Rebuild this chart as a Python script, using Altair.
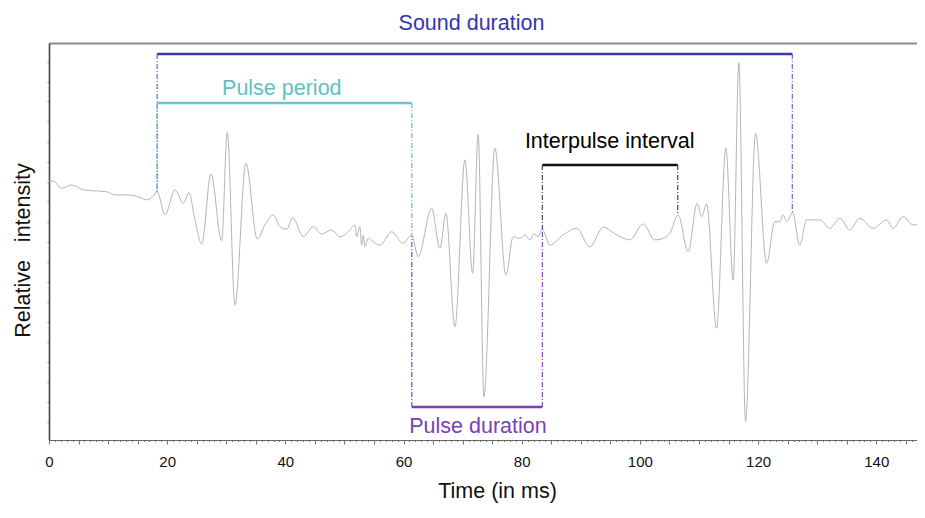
import altair as alt
import pandas as pd

FONT = "Liberation Sans"

# Waveform (time in ms, relative intensity)
wave_t = [0.0, 0.73, 2.15, 3.84, 5.80, 7.50, 9.76, 11.17, 13.15, 15.40, 16.53, 17.65, 18.32,
          19.63, 21.32, 22.72, 23.69, 24.70, 25.84, 27.41, 29.22, 30.17, 31.47, 33.33, 35.25,
          36.55, 37.95, 39.09, 40.22, 41.24, 43.03, 44.72, 46.14, 47.83, 49.24,
          50.93, 51.78, 52.06, 52.62, 52.91, 53.18, 53.47, 54.03, 54.87, 56.01, 57.99, 59.95,
          61.37, 62.49, 64.75, 66.16, 67.17, 68.70, 70.39, 71.69, 72.64, 73.60, 75.47, 77.33,
          78.56, 79.70, 80.54, 81.39, 82.06, 82.79, 83.47, 84.77, 87.02, 89.29, 91.54, 93.79,
          96.06, 98.31, 100.56, 102.54, 103.94, 105.08, 106.48, 108.17, 109.70, 110.44, 111.29,
          112.98, 114.55, 115.79, 116.75, 117.88, 119.58, 121.44, 122.84, 123.69, 124.25, 124.82,
          125.84, 127.07, 128.21, 130.46, 132.15, 133.84, 135.53, 137.23, 139.48, 141.74, 142.86,
          144.55, 146.24, 148.22]
wave_y = [29.8, 30.3, 26.6, 28.3, 25.8, 25.4, 24.9, 23.3, 23.3, 22.1, 20.8, 22.8, 24.9,
          13.3, 25.8, 19.1, 24.4, 10.8, -1.3, 33.8, 0.4, 54.6, -31.8, 39.1, 1.3,
          8.3, 13.3, 7.4, 6.1, 11.9, 2.4, 7.4, 3.8, 5.8, 2.3,
          5.8, 8.3, 2.4, 7.4, -1.8, 3.3, -2.6, 1.6, -0.1, -1.8, 4.9, -0.9,
          3.3, -7.6, 16.6, -3.4, 14.1, -42.6, 40.8, -15.9, 53.8, -77.6, 46.6, -16.8,
          2.4, 1.6, 3.3, 0.8, 3.8, 2.4, 6.1, -1.8, 3.3, 6.6, -2.6, 7.1,
          3.3, 0.8, 8.8, 0.8, 1.6, 4.1, 13.3, -5.1, 19.1, 12.4, 18.8,
          -43.4, 46.6, -19.3, 89.4, -90.1, 54.1, -10.9, 9.9, 9.9, 13.3, 9.9,
          14.4, -1.8, 10.8, 10.8, 6.6, 11.6, 5.8, 11.6, 6.6, 10.8, 6.6,
          12.4, 8.3, 8.3]

# Measurement bars
bar_names = ["Sound duration", "Pulse period", "Interpulse interval", "Pulse duration"]
bar_start = [18.3, 18.3, 83.5, 61.4]
bar_end = [125.8, 61.4, 106.4, 83.5]
bar_level = [93.75, 69.25, 38.25, -82.75]
bar_colors = ["#3a3aa6", "#6cc6c6", "#111111", "#7b3fb8"]

# Dash-dot guide lines (time, from level, to waveform)
guide_names = ["Sound duration", "Sound duration", "Pulse period", "Pulse period",
               "Interpulse interval", "Interpulse interval", "Pulse duration", "Pulse duration"]
guide_t = [18.3, 125.8, 18.3, 61.4, 83.5, 106.4, 61.4, 83.5]
guide_from = [93.75, 93.75, 69.25, 69.25, 38.25, 38.25, -82.75, -82.75]
guide_to = [24.75, 14.25, 24.75, 3.25, 6.25, 13.75, 2.75, 6.25]
guide_colors = ["#7474d4", "#7474d4", "#6cc6c6", "#6cc6c6", "#555555", "#555555", "#8a4fc4", "#8a4fc4"]

# Labels
label_text = ["Sound duration", "Pulse period", "Interpulse interval", "Pulse duration"]
label_t = [71.5, 39.4, 94.9, 72.6]
label_y = [105.75, 73.25, 46.75, -95.75]
label_colors = ["#3535b0", "#62c0c0", "#000000", "#7b3fb8"]

wave = pd.DataFrame({"t": wave_t, "y": wave_y})
bars_df = pd.DataFrame({"name": bar_names, "start": bar_start, "end": bar_end,
                        "level": bar_level, "color": bar_colors})
guides_df = pd.DataFrame({"name": guide_names, "t": guide_t, "y1": guide_from,
                          "y2": guide_to, "color": guide_colors})
labels_df = pd.DataFrame({"text": label_text, "t": label_t, "y": label_y, "color": label_colors})

x_scale = alt.Scale(domain=[0, 146.9], nice=False, zero=False)
y_scale = alt.Scale(domain=[-99.25, 99.25], nice=False, zero=False)

x_axis = alt.Axis(
    values=list(range(0, 147)),
    labelExpr="datum.value % 20 === 0 ? datum.label : ''",
    labelOverlap=False, labelFlush=False,
    tickSize={"condition": {"test": "datum.value % 5 === 0", "value": 4}, "value": 1.5},
    tickColor="#777777", tickWidth=1,
    domainColor="#666666", domainWidth=1,
    labelFont=FONT, labelFontSize=15, labelColor="#111111", labelPadding=10,
    grid=False,
    title="Time (in ms)", titleFont=FONT, titleFontSize=21.5, titleFontWeight="normal",
    titleColor="#111111", titleBaseline="alphabetic", titleX=448, titleY=57,
)

y_axis = alt.Axis(
    values=list(range(-90, 100, 10)), labels=False, tickSize=2, tickColor="#888888",
    domainColor="#444444", domainWidth=1.6, grid=False,
    title="Relative\u00a0\u00a0\u00a0intensity", titleFont=FONT, titleFontSize=21.5,
    titleFontWeight="normal", titleColor="#111111", titleAngle=270,
    titleBaseline="alphabetic", titleAlign="center", titleX=-20, titleY=207,
)

line = alt.Chart(wave).mark_line(
    color="#b5b5b5", strokeWidth=1, interpolate="monotone", clip=True
).encode(
    x=alt.X("t:Q", scale=x_scale, axis=x_axis),
    y=alt.Y("y:Q", scale=y_scale, axis=y_axis),
)

guides = alt.Chart(guides_df).mark_rule(strokeWidth=1.3, strokeDash=[5, 2, 1, 2]).encode(
    x=alt.X("t:Q", scale=x_scale, axis=None),
    y=alt.Y("y1:Q", scale=y_scale, axis=None),
    y2="y2:Q",
    color=alt.Color("color:N", scale=None),
)

bars = alt.Chart(bars_df).mark_rule(strokeWidth=2.5).encode(
    x=alt.X("start:Q", scale=x_scale, axis=None),
    x2="end:Q",
    y=alt.Y("level:Q", scale=y_scale, axis=None),
    color=alt.Color("color:N", scale=None),
)

labels = alt.Chart(labels_df).mark_text(
    font=FONT, fontSize=21.5, align="center", baseline="alphabetic"
).encode(
    x=alt.X("t:Q", scale=x_scale,
            axis=alt.Axis(orient="top", labels=False, ticks=False, title=None, grid=False,
                          domainColor="#8c8c8c", domainWidth=2)),
    y=alt.Y("y:Q", scale=y_scale, axis=None),
    text="text:N",
    color=alt.Color("color:N", scale=None),
)

chart = alt.layer(line, guides, bars, labels).resolve_axis(
    x="independent", y="independent"
).properties(
    width=868, height=397,
    autosize=alt.AutoSizeParams(type="none"),
    padding={"left": 41, "top": 35, "right": 0, "bottom": 64},
).configure_view(stroke=None)

chart.save("out.html", embed_options={"renderer": "svg", "actions": False})
